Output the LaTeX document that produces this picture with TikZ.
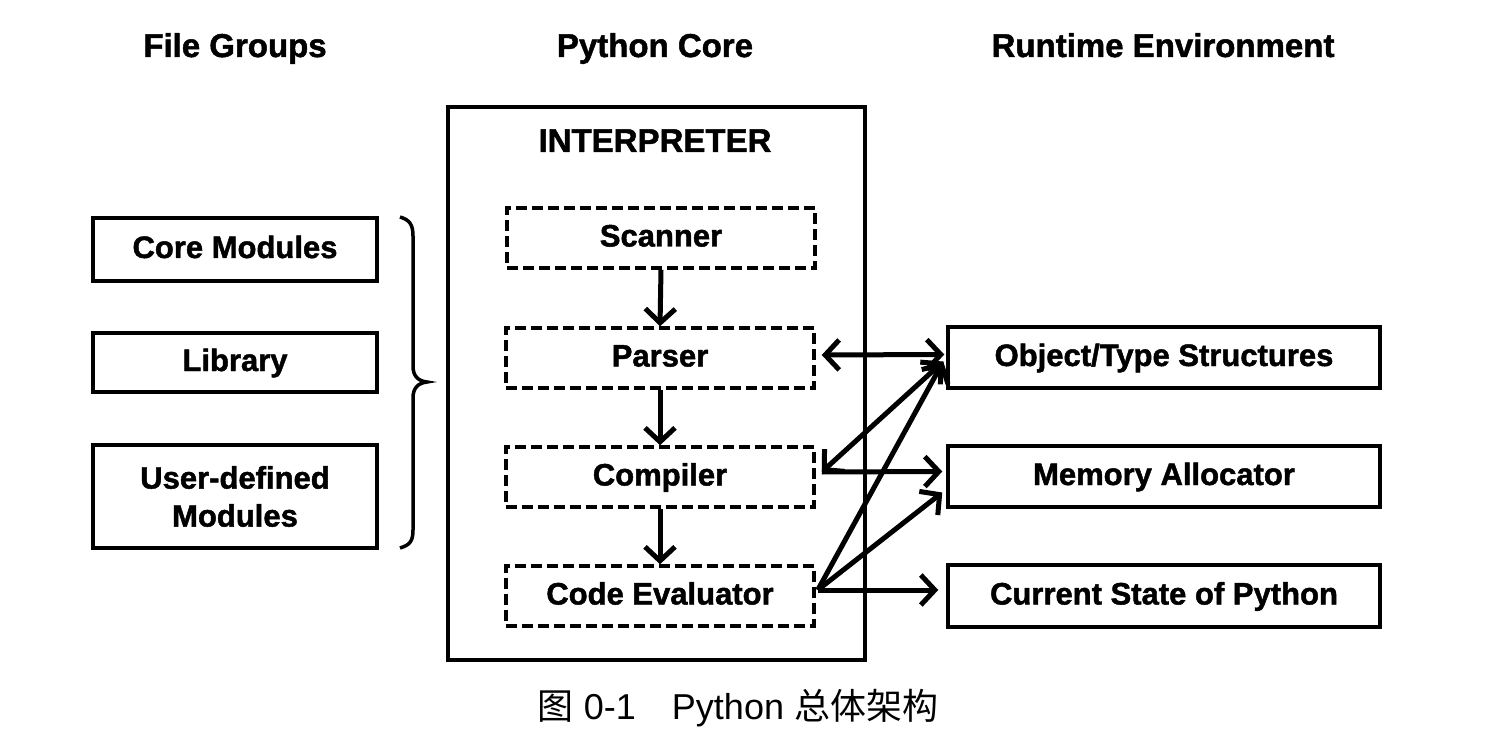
\documentclass[tikz,border=0pt]{standalone}
\usepackage{fontspec}
\setmainfont{Liberation Sans}
\newfontfamily\heavy{Liberation Sans Bold}[FakeBold=1.5]
\newfontfamily\cjk{Noto Sans CJK SC}
\usetikzlibrary{arrows.meta}
\tikzset{
  lbl/.style={font=\fontsize{31}{33}\heavy, text height=23pt, text depth=6pt},
  ttl/.style={font=\fontsize{33}{36}\heavy, anchor=base},
  solidbox/.style={draw, line width=3.5pt, inner sep=0pt, lbl, align=center},
  dashbox/.style={draw, line width=3.5pt, dash pattern=on 11pt off 5pt, inner sep=0pt, lbl,
    minimum width=308pt, minimum height=60pt},
  arr/.style={line width=5pt, -{Straight Barb[length=14pt,width=30pt,line width=5pt]}},
  darr/.style={line width=5pt, {Straight Barb[length=14pt,width=30pt,line width=5pt]}-{Straight Barb[length=14pt,width=30pt,line width=5pt]}},
}
\begin{document}
\begin{tikzpicture}[x=1pt,y=-1pt]
\useasboundingbox (0,0) rectangle (1486,754);
% titles
\node[ttl] (t1) at (235,57) {File Groups};
\node[ttl] (t2) at (655,57) {Python Core};
\node[ttl] (t3) at (1163,57) {Runtime Environment};
% left boxes
\node[solidbox, minimum width=284pt, minimum height=63pt] (core) at (235,249.5) {Core Modules};
\node[solidbox, minimum width=284pt, minimum height=59pt] (lib) at (235,362.5) {Library};
\node[draw, line width=3.5pt, inner sep=0pt, align=center, font=\fontsize{31}{38}\heavy,
  minimum width=284pt, minimum height=103pt] (user) at (235,496.5) {User-defined\\Modules};
% brace
\draw[line width=3.5pt] (400,217) .. controls (410,220) and (413,225) .. (413,236)
  -- (413,366) .. controls (413,376) and (418,381) .. (427,382)
  .. controls (418,383) and (413,388) .. (413,398)
  -- (413,530) .. controls (413,541) and (410,545) .. (400,548);
% interpreter
\node[draw, line width=3.5pt, minimum width=417pt, minimum height=553pt, inner sep=0pt] (interp) at (656.5,383.5) {};
\node[ttl] (ititle) at (655,152) {INTERPRETER};
\node[dashbox] (scan) at (661,238) {Scanner};
\node[dashbox] (pars) at (660,358) {Parser};
\node[dashbox] (comp) at (660,477) {Compiler};
\node[dashbox] (eval) at (660,596) {Code Evaluator};
\draw[arr] (scan.south) -- (pars.north);
\draw[arr] (pars.south) -- (comp.north);
\draw[arr] (comp.south) -- (eval.north);
% right boxes
\node[solidbox, minimum width=432pt, minimum height=61pt] (obj) at (1164,357.5) {Object/Type Structures};
\node[solidbox, minimum width=432pt, minimum height=61pt] (mem) at (1164,476.5) {Memory Allocator};
\node[solidbox, minimum width=432pt, minimum height=62pt] (cur) at (1164,596) {Current State of Python};
% connectors
\coordinate (pe) at ([xshift=6pt,yshift=3pt]pars.east);
\coordinate (ce) at ([xshift=6pt,yshift=5pt]comp.east);
\coordinate (ee) at ([xshift=2pt,yshift=6pt]eval.east);
\coordinate (ow) at ([xshift=-3pt,yshift=-4pt]obj.west);
\coordinate (mw) at ([xshift=-4pt,yshift=-16pt]mem.west);
\draw[darr] (pe) -- ([xshift=-2pt,yshift=3pt]obj.west);
\draw[darr] (ce) -- (ow);
\draw[arr] (ce) -- ([xshift=-4pt,yshift=5pt]mem.west);
\draw[arr] (ee) -- (ow);
\draw[arr] (ee) -- (mw);
\draw[arr] (ee) -- ([xshift=-8pt,yshift=6pt]cur.west);
% caption
\node[font=\fontsize{36}{40}\selectfont] (cap) at (738,708) {{\cjk 图} 0-1\hspace{1em}Python {\cjk 总体架构}};
\end{tikzpicture}
\end{document}
